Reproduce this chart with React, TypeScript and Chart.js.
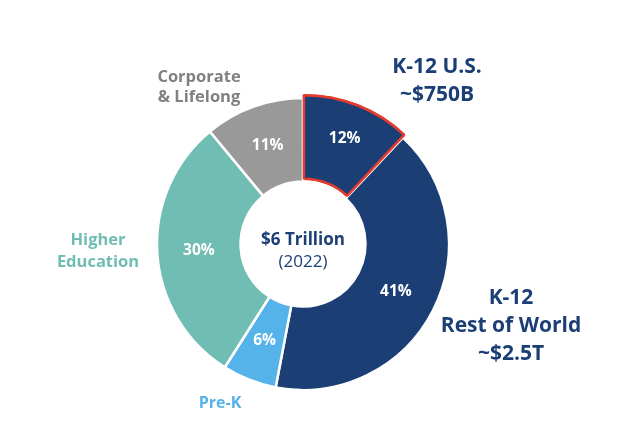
import React, { useEffect, useRef } from "react";
import { Chart, registerables } from "chart.js";

Chart.register(...registerables);

const categories = ["K-12 U.S.", "K-12 Rest of World", "Pre-K", "Higher Education", "Corporate & Lifelong"];
const shares = [12, 41, 6, 30, 11];
const percentLabels = ["12%", "41%", "6%", "30%", "11%"];
const outsideLabels = [
  ["K-12 U.S.", "~$750B"],
  ["K-12", "Rest of World", "~$2.5T"],
  ["Pre-K"],
  ["Higher", "Education"],
  ["Corporate", "& Lifelong"],
];
const centerTitle = "$6 Trillion";
const centerSub = "(2022)";

const fillColors = ["#1b3f75", "#1b3f75", "#55b3e9", "#70bdb3", "#999999"];
const borderColors = ["#e33b2e", "#ffffff", "#ffffff", "#ffffff", "#ffffff"];
const borderWidths = [2.5, 2.5, 2.5, 2.5, 2.5];
const offsets = [9, 0, 0, 0, 0];
const labelColors = ["#1b3f75", "#1b3f75", "#55b3e9", "#70bdb3", "#808080"];
// label layout relative to chart centre: [dx, firstLineDy, lineHeight, fontSize]
const labelLayout = [
  [134, -177, 28, 21],
  [208, 54, 28, 21],
  [-83, 159, 20, 16],
  [-205, -4, 22, 16.5],
  [-104, -167, 20, 16.5],
];

const FONT = "'Open Sans', Lato, sans-serif";

const labelPlugin = {
  id: "donutLabels",
  afterDatasetsDraw(chart: any) {
    const ctx = chart.ctx;
    const meta = chart.getDatasetMeta(0);
    // redraw the highlighted slice so its red outline stays on top
    meta.data[0].draw(ctx, chart.chartArea);
    ctx.save();
    ctx.textAlign = "center";
    ctx.textBaseline = "middle";
    let cx = 0, cy = 0;
    meta.data.forEach((arc: any, i: number) => {
      const p = arc.getProps(["x", "y", "startAngle", "endAngle", "innerRadius", "outerRadius"], true);
      cx = p.x; cy = p.y;
      const mid = (p.startAngle + p.endAngle) / 2;
      const r = (p.innerRadius + p.outerRadius) / 2 + offsets[i];
      ctx.fillStyle = "#ffffff";
      ctx.font = `bold 15.5px ${FONT}`;
      ctx.fillText(percentLabels[i], p.x + Math.cos(mid) * r, p.y + Math.sin(mid) * r);
      const [dx, dy, lh, fs] = labelLayout[i];
      ctx.fillStyle = labelColors[i];
      ctx.font = `bold ${fs}px ${FONT}`;
      outsideLabels[i].forEach((line, j) => {
        ctx.fillText(line, p.x + dx, p.y + dy + j * lh);
      });
    });
    ctx.fillStyle = "#1b3f75";
    ctx.font = `bold 17px ${FONT}`;
    ctx.fillText(centerTitle, cx, cy - 4);
    ctx.font = `17px ${FONT}`;
    ctx.fillText(centerSub, cx, cy + 18);
    ctx.restore();
  },
};

export default function App() {
  const ref = useRef<HTMLCanvasElement>(null);
  useEffect(() => {
    if (!ref.current) return;
    const chart = new Chart(ref.current, {
      type: "doughnut",
      data: {
        labels: categories,
        datasets: [
          {
            data: shares,
            backgroundColor: fillColors,
            borderColor: borderColors,
            borderWidth: borderWidths,
            offset: offsets,
            hoverOffset: 0,
          } as any,
        ],
      },
      options: {
        animation: false,
        responsive: false,
        radius: 146,
        cutout: 75,
        layout: { padding: { left: 0, right: 34, top: 63, bottom: 0 } },
        plugins: { legend: { display: false }, tooltip: { enabled: false } },
        events: [],
      } as any,
      plugins: [labelPlugin],
    });
    return () => chart.destroy();
  }, []);
  return (
    <div style={{ position: "fixed", left: 0, top: 0, width: 640, height: 425, background: "#fff" }}>
      <canvas ref={ref} width={640} height={425} />
    </div>
  );
}
